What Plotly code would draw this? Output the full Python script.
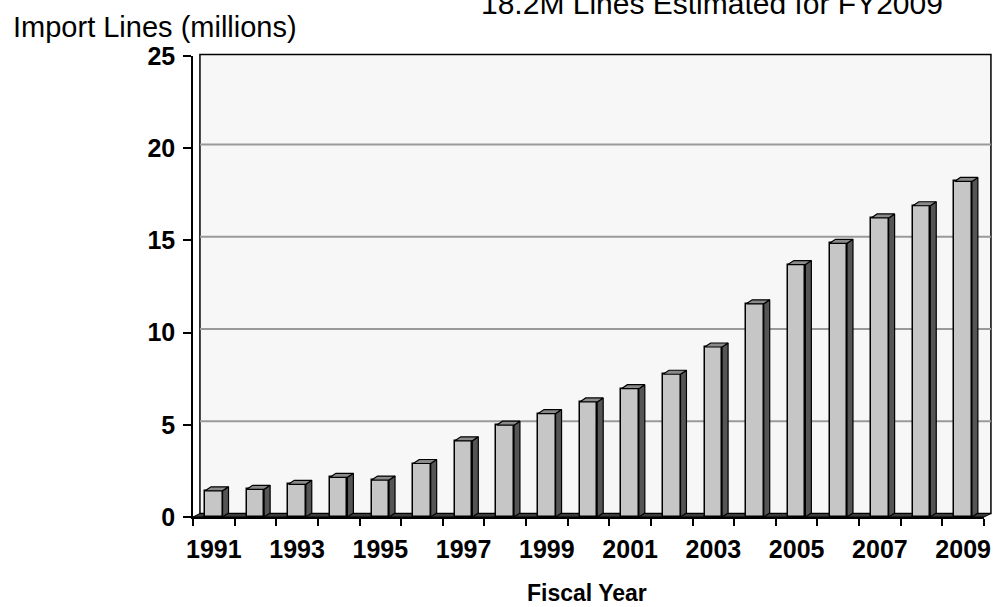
import plotly.graph_objects as go

# ---- data ----
years = list(range(1991, 2010))
import_lines = [1.42, 1.50, 1.77, 2.15, 2.00, 2.90, 4.13, 4.98, 5.61, 6.24,
                6.96, 7.74, 9.22, 11.56, 13.69, 14.84, 16.22, 16.88, 18.2]
label_years = [str(y) for y in years if y % 2 == 1]
y_ticks = [0, 5, 10, 15, 20, 25]
grid_vals = [5, 10, 15, 20]

# ---- geometry helpers ----
W, H = 1002, 607
ML, MR, MT, MB = 193, 11, 56, 90
PW, PH = W - ML - MR, H - MT - MB

def px(x):
    return (x - ML) / PW

def py(y):
    return (H - MB - y) / PH

idx = list(range(len(years)))
bar_w = 0.42
dx = 6 / (PW / len(years))      # depth offset in category units
dy = 4 / (PH / 25)              # depth offset in value units

side_x, side_y, top_x, top_y = [], [], [], []
for i, v in zip(idx, import_lines):
    r = i + bar_w / 2
    l = i - bar_w / 2
    side_x += [r, r + dx, r + dx, r, r, None]
    side_y += [0, dy, v + dy, v, 0, None]
    top_x += [l, l + dx, r + dx, r, l, None]
    top_y += [v, v + dy, v + dy, v, v, None]

fig = go.Figure()
fig.add_trace(go.Bar(x=idx, y=import_lines, width=bar_w,
                     marker=dict(color="#c6c6c6", line=dict(color="black", width=1.5)),
                     hoverinfo="skip", showlegend=False))
fig.add_trace(go.Scatter(x=side_x, y=side_y, mode="lines", fill="toself",
                         fillcolor="#555555", line=dict(color="black", width=1.2),
                         hoverinfo="skip", showlegend=False))
fig.add_trace(go.Scatter(x=top_x, y=top_y, mode="lines", fill="toself",
                         fillcolor="#8a8a8a", line=dict(color="black", width=1.2),
                         hoverinfo="skip", showlegend=False))

shapes = []
dxp = 7 / PW
dyp = 3.5 / PH
# back wall
shapes.append(dict(type="rect", xref="paper", yref="paper", x0=dxp, x1=1 + dxp,
                   y0=dyp, y1=1.003, fillcolor="#f7f7f7",
                   line=dict(color="black", width=1.5), layer="below"))
# gridlines on back wall
for g in grid_vals:
    shapes.append(dict(type="line", xref="paper", yref="y", x0=dxp, x1=1 + dxp,
                       y0=g + dy * 0.9, y1=g + dy * 0.9,
                       line=dict(color="#9a9a9a", width=2), layer="below"))
# floor strip
shapes.append(dict(type="path", xref="paper", yref="paper",
                   path=f"M 0,0 L {dxp},{dyp} L {1 + dxp},{dyp} L 1,0 Z",
                   fillcolor="#3c3c3c", line=dict(color="black", width=1), layer="below"))

tick_font = dict(family="Liberation Sans, Arial", size=25, color="black", weight="bold")

fig.update_layout(
    width=W, height=H,
    margin=dict(l=ML, r=MR, t=MT, b=MB),
    paper_bgcolor="white", plot_bgcolor="rgba(0,0,0,0)",
    shapes=shapes,
    bargap=0,
    xaxis=dict(range=[-0.5, len(years) - 0.5], tickmode="array",
               tickvals=[i for i, y in zip(idx, years) if y % 2 == 1],
               ticktext=label_years, ticks="", ticklabelstandoff=9,
               tickfont=tick_font,
               showline=True, linecolor="black", linewidth=1.5, showgrid=False,
               zeroline=False,
               minor=dict(tickvals=[i - 0.5 for i in range(len(years) + 1)],
                          ticks="outside", ticklen=7, tickwidth=1.5, tickcolor="black",
                          showgrid=False),
               title=None),
    yaxis=dict(range=[0, 25], tickmode="array", tickvals=y_ticks,
               ticks="outside", ticklen=8, tickwidth=1.5, tickcolor="black",
               showline=True, linecolor="black", linewidth=1.5, showgrid=False,
               zeroline=False, ticklabelstandoff=3,
               tickfont=tick_font),
    annotations=[
        dict(text="Import Lines (millions)", xref="paper", yref="paper",
             x=px(9), y=py(27), xanchor="left", yanchor="middle", showarrow=False,
             font=dict(family="Liberation Sans, Arial", size=29, color="black")),
        dict(text="18.2M Lines Estimated for FY2009", xref="paper", yref="paper",
             x=px(482), y=py(3), xanchor="left", yanchor="middle", showarrow=False,
             font=dict(family="Liberation Sans, Arial", size=30, color="black")),
        dict(text="Fiscal Year", xref="paper", yref="paper",
             x=px(590), y=py(607), xanchor="center", yanchor="bottom", showarrow=False,
             borderpad=0,
             font=dict(family="Liberation Sans, Arial", size=23, color="black", weight="bold")),
    ],
)

fig.write_html("out.html")
